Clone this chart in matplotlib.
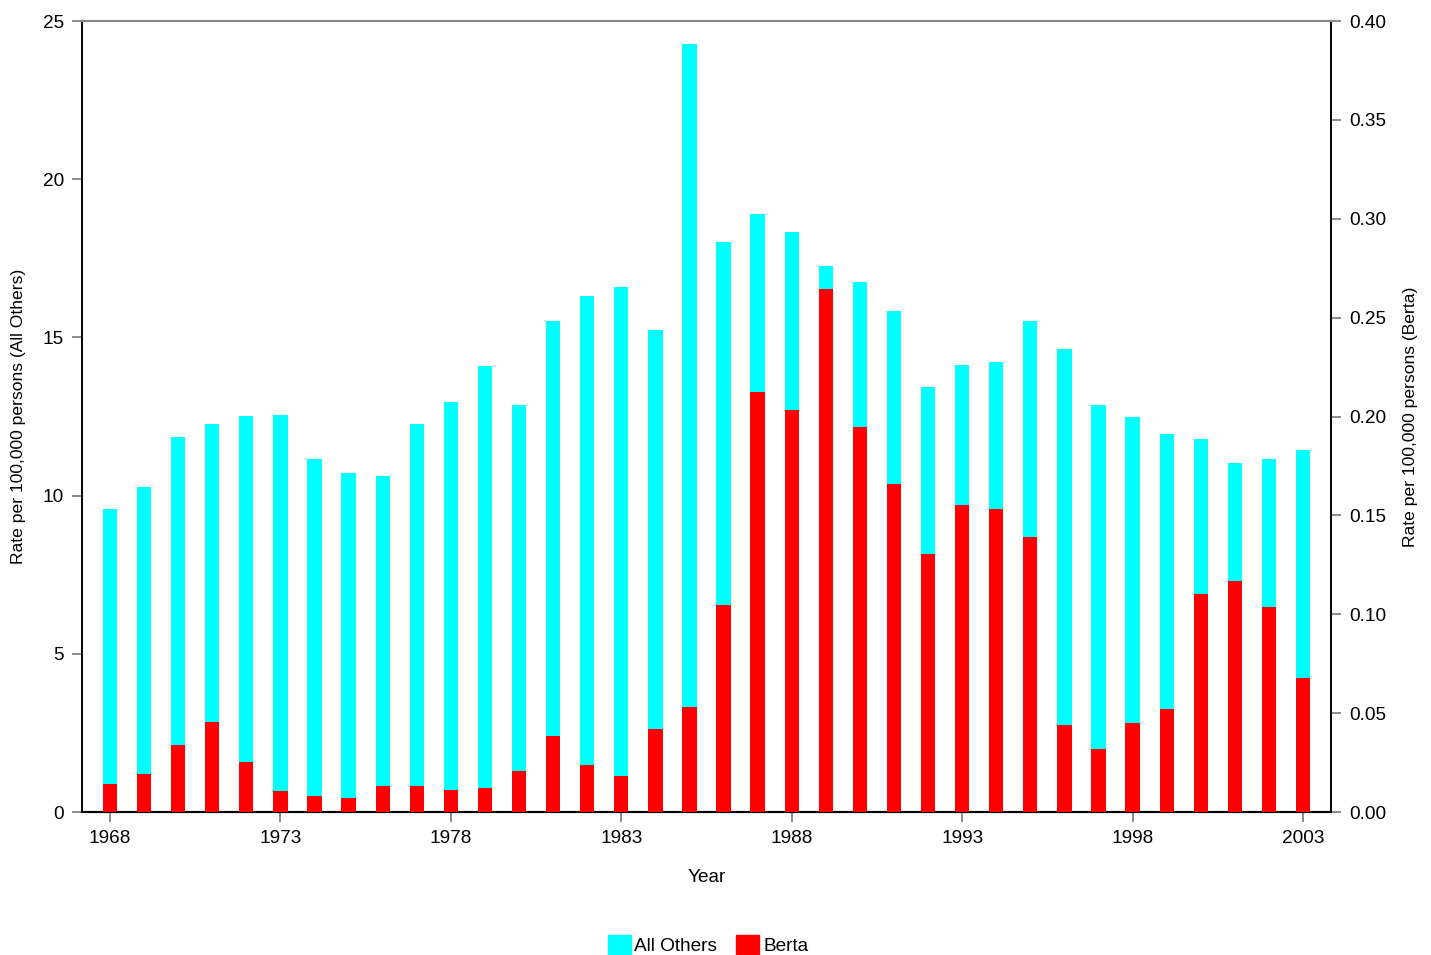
import matplotlib.pyplot as plt
from matplotlib.patches import Patch

plt.rcParams['font.family'] = ['Liberation Sans', 'DejaVu Sans']

years = list(range(1968, 2004))

# rate per 100,000 persons, all other cases (left axis)
all_others = [9.58, 10.27, 11.85, 12.26, 12.52, 12.55, 11.16, 10.71, 10.62, 12.26,
              12.96, 14.10, 12.86, 15.52, 16.31, 16.59, 15.23, 24.27, 18.02, 18.90,
              18.33, 17.26, 16.75, 15.83, 13.43, 14.13, 14.22, 15.52, 14.63, 12.86,
              12.48, 11.95, 11.79, 11.03, 11.16, 11.44]

# rate per 100,000 persons, Berta (right axis)
berta = [0.0142, 0.0192, 0.0339, 0.0455, 0.0253, 0.0106, 0.0081, 0.0071, 0.0131, 0.0131,
         0.0111, 0.0121, 0.0207, 0.0384, 0.0238, 0.0182, 0.0420, 0.0531, 0.1047, 0.2124,
         0.2033, 0.2645, 0.1947, 0.1659, 0.1305, 0.1552, 0.1532, 0.1391, 0.0440, 0.0319,
         0.0450, 0.0521, 0.1102, 0.1168, 0.1037, 0.0678]

cyan = '#00FFFF'
red = '#FF0000'

fig = plt.figure(figsize=(14.31, 9.55), dpi=100)
ax = fig.add_axes([82/1431, 1 - 812/955, (1331-82)/1431, (812-21)/955])
ax2 = ax.twinx()

ax.bar(years, all_others, width=0.42, color=cyan, zorder=2)
ax2.bar(years, berta, width=0.42, color=red, zorder=3)

ax.set_xlim(1967.18, 2003.82)
ax.set_ylim(0, 25)
ax2.set_ylim(0, 0.40)

ax.set_xticks(range(1968, 2004, 5))
ax.set_yticks([0, 5, 10, 15, 20, 25])
ax2.set_yticks([0, 0.05, 0.10, 0.15, 0.20, 0.25, 0.30, 0.35, 0.40])
ax2.set_yticklabels([f'{v:.2f}' for v in ax2.get_yticks()])

for a in (ax, ax2):
    a.tick_params(direction='out', length=7, width=1.2, color='#777777',
                  labelsize=13.7, pad=6)
    a.spines['top'].set_color('#888888')
    a.spines['top'].set_linewidth(1.5)
    a.spines['left'].set_linewidth(1.2)
    a.spines['right'].set_linewidth(1.2)
    a.spines['bottom'].set_linewidth(1.5)

ax.set_xlabel('Year', fontsize=13.7, labelpad=16)
ax.set_ylabel('Rate per 100,000 persons (All Others)', fontsize=12.6, labelpad=12)
ax2.set_ylabel('Rate per 100,000 persons (Berta)', fontsize=12.6, labelpad=12)

handles = [Patch(color=cyan, label='All Others'), Patch(color=red, label='Berta')]
fig.legend(handles=handles, loc='center', bbox_to_anchor=(708/1431, 1 - 945/955),
           ncol=2, frameon=False, fontsize=13.7, handlelength=1.2, handleheight=1.2,
           handletextpad=0.2, columnspacing=1.0)

fig.savefig('out.png', dpi=100)
